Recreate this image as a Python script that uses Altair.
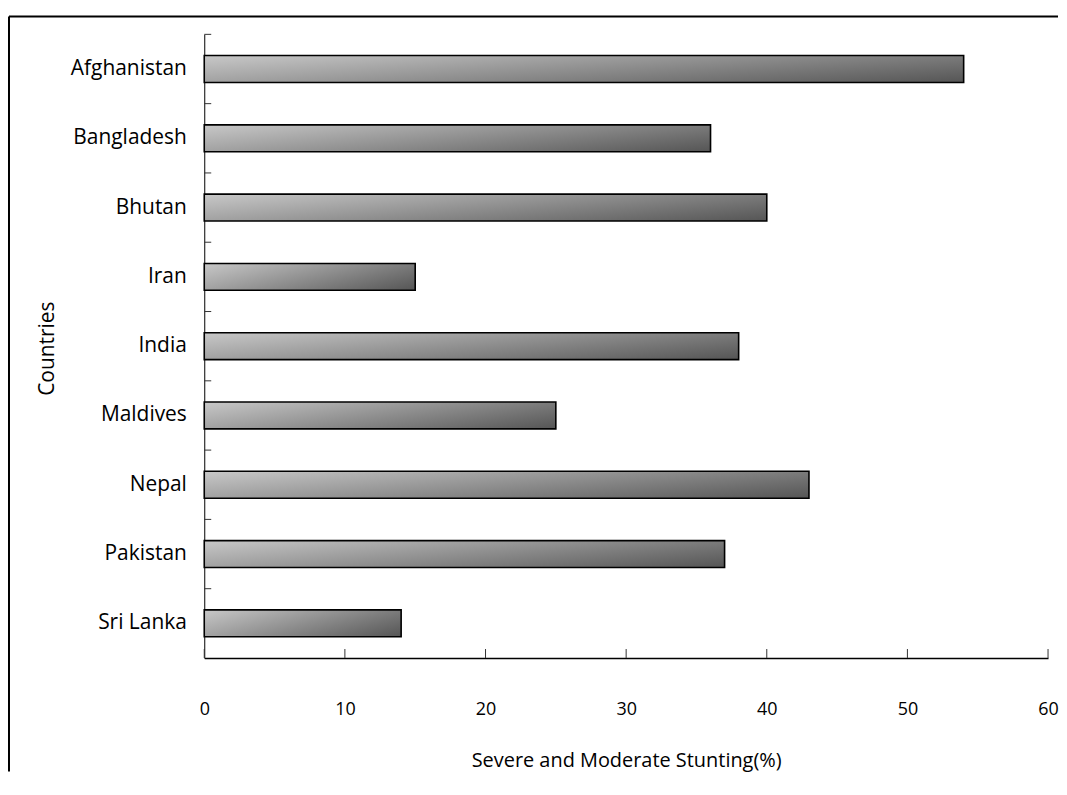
import altair as alt
import pandas as pd

countries = ["Afghanistan", "Bangladesh", "Bhutan", "Iran", "India",
             "Maldives", "Nepal", "Pakistan", "Sri Lanka"]
stunting = [54, 36, 40, 15, 38, 25, 43, 37, 14]
x_ticks = [0, 10, 20, 30, 40, 50, 60]

W, H = 847, 626
FONT = "Open Sans"

df = pd.DataFrame({"country": countries, "value": stunting})
tick_df = pd.DataFrame({"tick": x_ticks})

yscale = alt.Scale(domain=countries, paddingInner=0, paddingOuter=0)
xscale = alt.Scale(domain=[0, 60], nice=False)

grad = alt.LinearGradient(
    gradient="linear",
    stops=[alt.GradientStop(color="#c8c8c8", offset=0),
           alt.GradientStop(color="#555555", offset=1)],
    x1=0, y1=0, x2=1.2, y2=0.6,
)

bars = alt.Chart(df).mark_bar(size=27, fill=grad, stroke="black", strokeWidth=1.6).encode(
    x=alt.X("value:Q", scale=xscale,
            axis=alt.Axis(values=x_ticks, title="Severe and Moderate Stunting(%)",
                          grid=False, ticks=False, tickSize=0, domain=True,
                          domainColor="black", domainWidth=1.5, labelFlush=False,
                          labelPadding=43, labelFontSize=18, labelFont=FONT,
                          labelColor="black", titleFont=FONT, titleFontSize=20,
                          titleFontWeight="normal", titleColor="black",
                          titlePadding=32)),
    y=alt.Y("country:N", sort=countries, scale=yscale,
            axis=alt.Axis(title="Countries", ticks=False, tickSize=0, domain=True,
                          domainColor="black", domainWidth=1,
                          labelPadding=18, labelFontSize=21, labelFont=FONT,
                          labelColor="black", titleFont=FONT, titleFontSize=21,
                          titleFontWeight="normal", titleColor="black",
                          titleX=-147, titleY=H / 2 + 2, titleAngle=270,
                          titleAlign="center", titleBaseline="bottom")),
)

ytick = alt.Chart(df).mark_rule(color="#333333", strokeWidth=1).encode(
    y=alt.Y("country:N", sort=countries, scale=yscale, bandPosition=0),
    x=alt.value(0), x2=alt.value(7),
)

xtick = alt.Chart(tick_df).mark_rule(color="#333333", strokeWidth=1).encode(
    x=alt.X("tick:Q", scale=xscale),
    y=alt.value(H), y2=alt.value(H - 9),
)

one = pd.DataFrame({"k": [0]})
frame_top = alt.Chart(one).mark_rule(color="black", strokeWidth=2).encode(
    x=alt.value(-196), x2=alt.value(857), y=alt.value(-18))
frame_left = alt.Chart(one).mark_rule(color="black", strokeWidth=2).encode(
    x=alt.value(-196), y=alt.value(-18), y2=alt.value(740))

chart = alt.layer(bars, ytick, xtick, frame_top, frame_left).properties(
    width=W, height=H,
    padding={"top": 6, "left": 0, "right": 0, "bottom": 0},
    background="white",
).configure_view(stroke=None)

chart.save("out.html", embed_options={"renderer": "svg", "actions": False})
